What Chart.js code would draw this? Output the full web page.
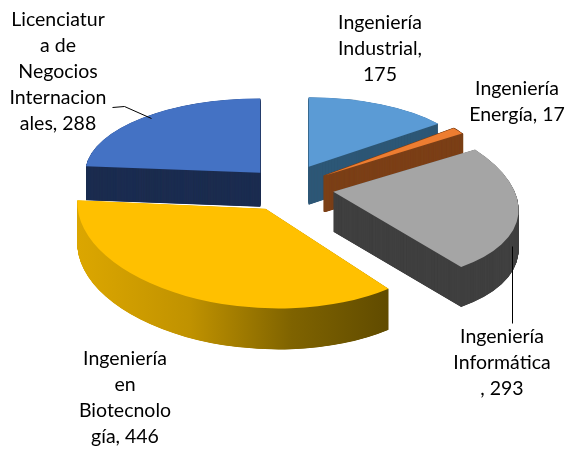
<!DOCTYPE html>
<html lang="es">
<head>
<meta charset="utf-8">
<style>html,body{margin:0;padding:0;background:#fff}canvas{display:block}</style>
<script src="https://cdn.jsdelivr.net/npm/chart.js@4"></script>
</head>
<body>
<canvas id="c" width="566" height="449"></canvas>
<script>
const categories = ['Ingeniería Industrial','Ingeniería Energía','Ingeniería Informática','Ingeniería en Biotecnología','Licenciatura de Negocios Internacionales'];
const values = [175, 17, 293, 446, 288];
const labelLines = [
  ['Ingeniería','Industrial,','175'],
  ['Ingeniería','Energía, 17'],
  ['Ingeniería','Informática',', 293'],
  ['Ingeniería','en','Biotecnolo','gía, 446'],
  ['Licenciatur','a de','Negocios','Internacion','ales, 288']
];
const topColors = ['#5b9bd5','#ed7d31','#a5a5a5','#ffc000','#4472c4'];
const sideColors = ['#2f5877','#7c4018','#404040',null,'#1c2d50'];
const sideStrokes = [0, 2.5, 0, 0, 0];
const offsets = [43, 43, 44, 50, 44];
const radii = [165, 164, 184, 188, 175];
const tilts = [0.42, 0.465, 0.48, 0.53, 0.425];
const shears = [0, 0, 0.25, 0.13, 0];
const slopes = [0, 0, 0.04, 0, 0];
const drops = [0, 2, 2, 1, 3];
const depths = [38, 36, 40, 41, 34];
const drawOrder = [4, 0, 1, 2, 3];
const offsetTilt = 0.5;
const labelCentres = [380, 517, 502, 125, 58];
const labelTops = [23, 89, 337, 359, 20];
const lineStep = 26;
const leaders = [
  [[112,107],[124,106],[151,118]],
  [[512,246],[512,323]]
];

function plainOptions(fill, bw) {
  return {backgroundColor: fill, borderColor: fill, borderWidth: bw, offset: 0, spacing: 0,
    circular: true, borderAlign: 'center', borderRadius: 0, borderJoinStyle: 'round',
    borderDash: [], borderDashOffset: 0};
}

const pie3d = {
  id: 'pie3d',
  beforeDatasetDraw(chart, args) {
    const ctx = chart.ctx;
    const arcs = args.meta.data;
    drawOrder.forEach(i => {
      const arc = arcs[i];
      const saved = arc.options;
      const mid = (arc.startAngle + arc.endAngle) / 2;
      const ax = arc.x + Math.cos(mid) * saved.offset;
      const ay = arc.y + Math.sin(mid) * saved.offset * offsetTilt + drops[i];
      const r = radii[i] / arc.outerRadius;
      const place = dy => {
        ctx.save();
        ctx.translate(ax, ay + dy);
        ctx.transform(r, slopes[i] * r, shears[i] * tilts[i] * r, tilts[i] * r, 0, 0);
        ctx.translate(-arc.x, -arc.y);
      };
      let side = sideColors[i];
      if (!side) {
        const g = ctx.createLinearGradient(arc.x - arc.outerRadius, 0, arc.x + arc.outerRadius * 0.62, 0);
        g.addColorStop(0, '#dba600');
        g.addColorStop(0.33, '#c09200');
        g.addColorStop(0.66, '#7f6300');
        g.addColorStop(1, '#5f4a00');
        side = g;
      }
      arc.options = plainOptions(side, sideStrokes[i]);
      for (let d = depths[i]; d > 0; d -= 0.25) {
        place(d);
        arc.draw(ctx);
        ctx.restore();
      }
      arc.options = plainOptions(topColors[i], 0);
      place(0);
      arc.draw(ctx);
      ctx.restore();
      arc.options = saved;
    });
    return false;
  },
  afterDatasetsDraw(chart) {
    const ctx = chart.ctx;
    ctx.save();
    ctx.strokeStyle = '#000';
    ctx.lineWidth = 1;
    leaders.forEach(pts => {
      ctx.beginPath();
      pts.forEach((p, j) => j ? ctx.lineTo(p[0] + 0.5, p[1] + 0.5) : ctx.moveTo(p[0] + 0.5, p[1] + 0.5));
      ctx.stroke();
    });
    ctx.fillStyle = '#000';
    ctx.font = '19.5px Lato, "Open Sans", sans-serif';
    ctx.textAlign = 'center';
    ctx.textBaseline = 'middle';
    labelLines.forEach((lines, i) => {
      lines.forEach((t, j) => ctx.fillText(t, labelCentres[i], labelTops[i] + j * lineStep));
    });
    ctx.restore();
  }
};

new Chart(document.getElementById('c'), {
  type: 'pie',
  data: {
    labels: categories,
    datasets: [{data: values, backgroundColor: topColors, offset: offsets, borderWidth: 0, clip: false}]
  },
  options: {
    responsive: false,
    animation: false,
    layout: {padding: {left: 14, bottom: 77}},
    plugins: {legend: {display: false}, tooltip: {enabled: false}, title: {display: false}}
  },
  plugins: [pie3d]
});
</script>
</body>
</html>
